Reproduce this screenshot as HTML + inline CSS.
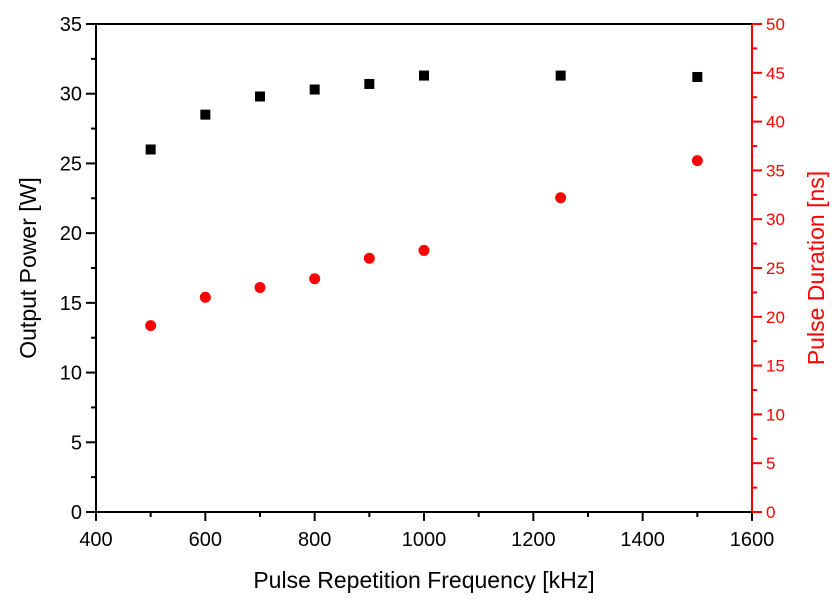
<!DOCTYPE html>
<html><head><meta charset="utf-8"><style>
body{margin:0;background:#fff}
svg text{font-family:"Liberation Sans",sans-serif}
</style></head><body>
<svg id="c" width="836" height="608"></svg>
<script>
const freqs=[500,600,700,800,900,1000,1250,1500];
const power=[26,28.5,29.8,30.3,30.7,31.3,31.3,31.2];
const duration=[19.1,22,23,23.9,26,26.8,32.2,36];
const xTicks=[400,600,800,1000,1200,1400,1600];
const yTicks=[0,5,10,15,20,25,30,35];
const y2Ticks=[0,5,10,15,20,25,30,35,40,45,50];
const L=96,R=752,T=24,B=512;
const sx=v=>L+(v-400)/1200*(R-L);
const sy=v=>B-v/35*(B-T);
const sy2=v=>B-v/50*(B-T);
const svg=document.getElementById('c');
const NS='http://www.w3.org/2000/svg';
function mk(t,a,txt){const e=document.createElementNS(NS,t);for(const k in a)e.setAttribute(k,a[k]);if(txt!==undefined)e.textContent=txt;svg.appendChild(e);return e;}
let e;
e=mk('line',{x1:L,y1:T,x2:R,y2:T,stroke:'#000','stroke-width':2});


e=mk('line',{x1:L,y1:B,x2:R,y2:B,stroke:'#000','stroke-width':2});


e=mk('line',{x1:L,y1:T,x2:L,y2:B,stroke:'#000','stroke-width':2});


e=mk('line',{x1:R,y1:T,x2:R,y2:B,stroke:'#f00','stroke-width':2});


for(let v=400;v<=1600;v+=100){const maj=xTicks.includes(v);
e=mk('line',{x1:sx(v),y1:B,x2:sx(v),y2:B+(maj?9:5),stroke:'#000','stroke-width':2});

}
xTicks.forEach(v=>{e=mk('text',{x:sx(v),y:B+34,'font-size':20,'text-anchor':'middle'},v);

});
for(let v=0;v<=35;v+=2.5){const maj=v%5===0;
e=mk('line',{x1:L-(maj?10:5),y1:sy(v),x2:L,y2:sy(v),stroke:'#000','stroke-width':2});

}
yTicks.forEach(v=>{e=mk('text',{x:L-14,y:sy(v)+7,'font-size':20,'text-anchor':'end'},v);

});
for(let v=0;v<=50;v+=2.5){const maj=v%5===0;
e=mk('line',{x1:R,y1:sy2(v),x2:R+(maj?10:5),y2:sy2(v),stroke:'#f00','stroke-width':2});

}
y2Ticks.forEach(v=>{e=mk('text',{x:R+14,y:sy2(v)+6,'font-size':17,fill:'#f00'},v);

});
e=mk('text',{x:424,y:588,'font-size':23,'text-anchor':'middle'},'Pulse Repetition Frequency [kHz]');


e=mk('text',{x:0,y:0,'font-size':23,'text-anchor':'middle',transform:'translate(36,268) rotate(-90)'},'Output Power [W]');


e=mk('text',{x:0,y:0,'font-size':23,'text-anchor':'middle',fill:'#f00',transform:'translate(824,268) rotate(-90)'},'Pulse Duration [ns]');


freqs.forEach((f,i)=>{
e=mk('rect',{x:sx(f)-5,y:sy(power[i])-5,width:10,height:10,fill:'#000'});


e=mk('circle',{cx:sx(f),cy:sy2(duration[i]),r:5.5,fill:'#f00'});


});
</script>
</body></html>
